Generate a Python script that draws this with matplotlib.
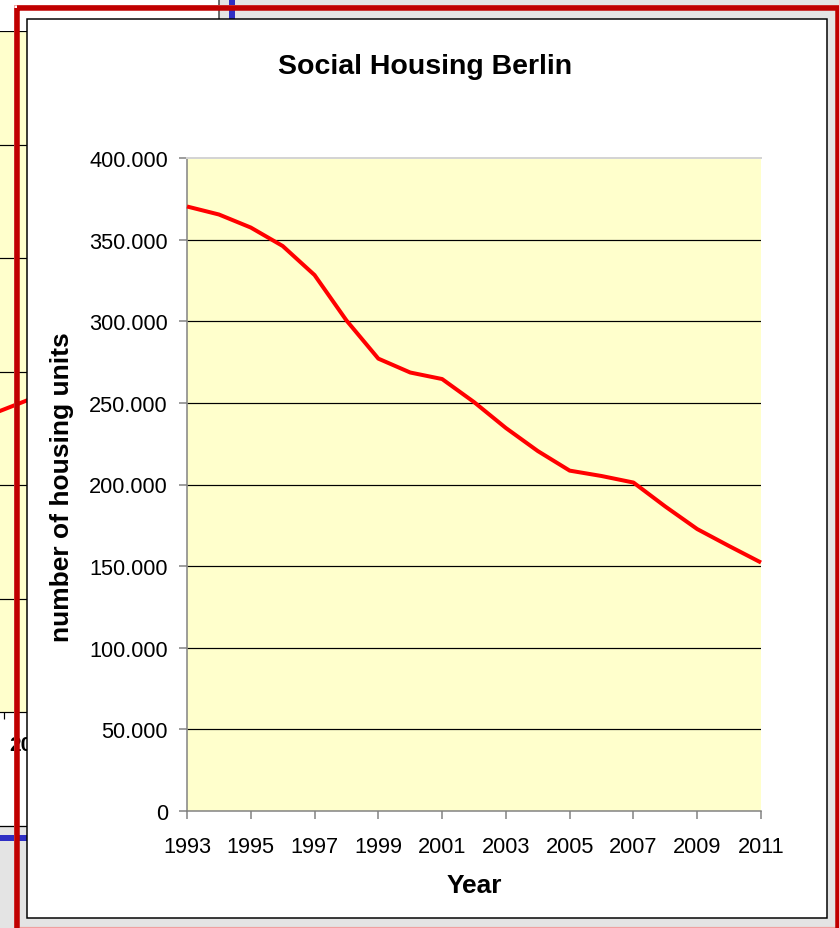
import matplotlib
matplotlib.use("Agg")
import matplotlib.pyplot as plt
from matplotlib.patches import Rectangle
from matplotlib.lines import Line2D
from matplotlib.transforms import Affine2D
from matplotlib.ticker import FuncFormatter

plt.rcParams['font.family'] = ['Liberation Sans', 'DejaVu Sans']

# Social housing stock in Berlin (number of units)
years = [1993, 1994, 1995, 1996, 1997, 1998, 1999, 2000, 2001, 2002,
         2003, 2004, 2005, 2006, 2007, 2008, 2009, 2010, 2011]
units = [370300, 365400, 357400, 346100, 328300, 300500, 277100, 268600,
         264600, 250500, 234600, 220500, 208500, 205200, 201200, 186500,
         172700, 162300, 152200]
y_ticks = [0, 50000, 100000, 150000, 200000, 250000, 300000, 350000, 400000]
x_ticks = [1993, 1995, 1997, 1999, 2001, 2003, 2005, 2007, 2009, 2011]

# Partly hidden chart lying behind the main one
back_years = ["1999", "2000"]
back_values = [128.3, 138.3]
back_grid = [50, 100, 150, 200, 250, 300]

W, H = 839, 929
fig = plt.figure(figsize=(W / 100, H / 100), dpi=100)
fig.patch.set_facecolor('#e4e4e4')

# pixel coordinates, origin top-left
pix = Affine2D().scale(1 / W, -1 / H).translate(0, 1) + fig.transFigure


def px(v):
    return v * 0.72


def axes_rect(left, top, right, bottom):
    return [left / W, 1 - bottom / H, (right - left) / W, (bottom - top) / H]


# ---- background chart ----
fig.add_artist(Rectangle((-10, -10), 228.5, 836.7, transform=pix,
                         facecolor='white', edgecolor='none', zorder=0.5))
fig.add_artist(Line2D([219, 219], [-5, 20], transform=pix, color='#404040',
                      lw=px(1.5), zorder=0.6))
fig.add_artist(Line2D([-5, 40], [826.7, 826.7], transform=pix, color='black',
                      lw=px(1.3), zorder=0.6))

axb = fig.add_axes(axes_rect(-122, 32, 226, 713), zorder=1)
axb.set_facecolor('#ffffcc')
axb.set_xlim(-1.672, 4.328)
axb.set_ylim(0, 300)
for v in back_grid:
    axb.axhline(v, color='black', lw=px(1.2), zorder=1)
axb.plot(range(len(back_years)), back_values, color='#ff0000', lw=px(4),
         zorder=3)
for s in ['left', 'right', 'top']:
    axb.spines[s].set_visible(False)
axb.spines['bottom'].set_color('black')
axb.spines['bottom'].set_linewidth(px(1.2))
axb.set_yticks([])
axb.set_xticks([c + 0.5 for c in range(-2, 4)], labels=[''] * 6)
axb.tick_params(axis='x', which='major', length=px(7), width=px(1.2),
                color='black')
axb.set_xticks(range(len(back_years)), labels=back_years, minor=True)
axb.tick_params(axis='x', which='minor', length=0, pad=px(23),
                labelsize=15)
for t in axb.get_xticklabels(minor=True):
    t.set_fontweight('bold')

# blue selection marks of the background chart
fig.add_artist(Line2D([232, 232], [-5, 20], transform=pix, color='#2f2fc4',
                      lw=px(6), zorder=1.5, solid_capstyle='butt'))
fig.add_artist(Line2D([-5, 30], [839, 839], transform=pix, color='#2f2fc4',
                      lw=px(6), zorder=1.5, solid_capstyle='butt'))

# ---- main chart ----
fig.add_artist(Rectangle((26.5, 19.5), 800, 900, transform=pix,
                         facecolor='white', edgecolor='black',
                         lw=px(1.5), zorder=2))

ax = fig.add_axes(axes_rect(187, 159, 761, 812), zorder=3)
ax.set_facecolor('#ffffcc')
ax.set_xlim(years[0], years[-1])
ax.set_ylim(y_ticks[0], y_ticks[-1])
ax.hlines(y_ticks[1:-1], years[0], years[-1], colors='black', lw=px(1.2),
          zorder=1)
ax.plot(years, units, color='#ff0000', lw=px(4), zorder=3,
        solid_joinstyle='round', solid_capstyle='butt', clip_on=False)

ax.spines['right'].set_visible(False)
ax.spines['top'].set_color('#d4d4d4')
ax.spines['top'].set_linewidth(px(2))
for s in ['left', 'bottom']:
    ax.spines[s].set_color('#808080')
    ax.spines[s].set_linewidth(px(1.5))

ax.set_yticks(y_ticks)
ax.yaxis.set_major_formatter(
    FuncFormatter(lambda v, p: f"{int(v):,}".replace(',', '.')))
ax.set_xticks(x_ticks)
ax.set_xticklabels([str(y) for y in x_ticks])
ax.tick_params(axis='both', direction='out', length=px(8), width=px(1.5),
               color='#808080', labelsize=15.7, labelcolor='black')
ax.tick_params(axis='y', pad=px(11))
ax.tick_params(axis='x', pad=px(17))

fig.text(425.5, 74, 'Social Housing Berlin', transform=pix, ha='center',
         va='baseline', fontsize=20.5, fontweight='bold', zorder=4)
fig.text(62, 487, 'number of housing units', transform=pix, ha='center',
         va='center', rotation=90, fontsize=19, fontweight='bold', zorder=4)
fig.text(474, 886, 'Year', transform=pix, ha='center', va='center',
         fontsize=19, fontweight='bold', zorder=4)

# ---- red selection frame ----
fig.add_artist(Rectangle((13.5, 5.5), 830, 930, transform=pix,
                         facecolor='none', edgecolor='#f0a8a8',
                         lw=px(1), zorder=9))
fig.add_artist(Rectangle((16.75, 9), 820.75, 923, transform=pix,
                         facecolor='none', edgecolor='#c00000',
                         lw=px(5.5), zorder=10))
fig.add_artist(Line2D([19.5, 835], [928, 928], transform=pix,
                      color='#f0a0a0', lw=px(1.2), zorder=9))

fig.savefig('out.png', dpi=100)
